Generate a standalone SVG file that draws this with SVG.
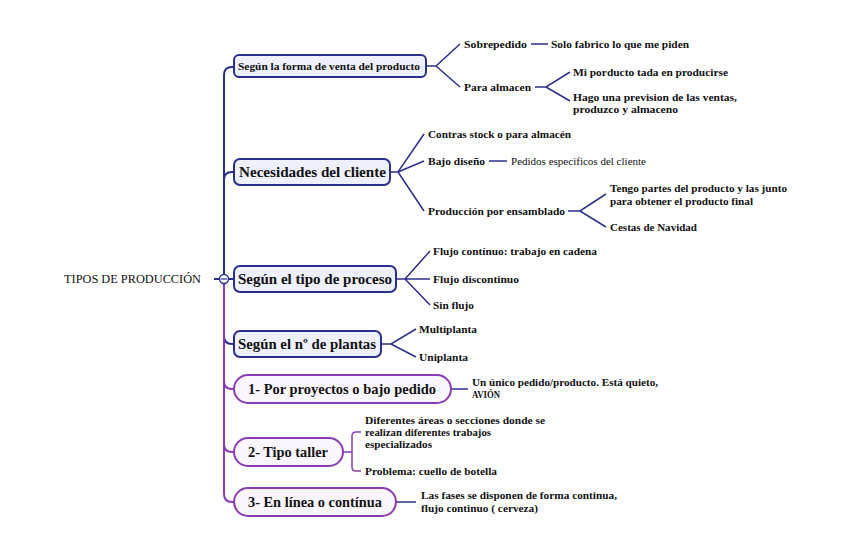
<svg xmlns="http://www.w3.org/2000/svg" width="848" height="552" viewBox="0 0 848 552">
<style>
.b{fill:#eef0fb;stroke:#2b2f8c;stroke-width:2}
.p{fill:#fbf6fd;stroke:#8a3cb4;stroke-width:2}
.lb{fill:none;stroke:#2b2f8c;stroke-width:2}
.lp{fill:none;stroke:#8a3cb4;stroke-width:2}
.lt{fill:none;stroke:#2b2f8c;stroke-width:1.5}
.lq{fill:none;stroke:#8a3cb4;stroke-width:1.5}
text{font-family:"Liberation Serif","DejaVu Serif",serif;fill:#111}
.m{font-weight:bold;font-size:15px}
.s{font-weight:bold;font-size:11.3px}
.r{font-size:11px}
</style>
<rect width="848" height="552" fill="#fff"/>
<g id="connectors">
<path class="lb" d="M224,279 V75 Q224,67 232,67 H234"/>
<path class="lb" d="M224,279 V180 Q224,172 232,172 H234"/>
<path class="lb" d="M224,279 H234"/>
<path class="lb" d="M224,279 V336 Q224,344 232,344 H234"/>
<path class="lp" d="M224,284 V381 Q224,389 232,389 H234"/>
<path class="lp" d="M224,284 V444 Q224,452 232,452 H234"/>
<path class="lp" d="M224,284 V494 Q224,502 232,502 H234"/>
<path class="lb" d="M214,279 H219"/>
<path class="lt" d="M426,66 H436 L460,44 M436,66 L460,87"/>
<path class="lt" d="M531,44 H548"/>
<path class="lt" d="M535,87 H546 L570,72 M546,87 L570,101"/>
<path class="lt" d="M390,172 H398 L424,134 M398,172 L424,161 M398,172 L424,211"/>
<path class="lt" d="M489,161 H507"/>
<path class="lt" d="M568,211 H580 L606,194 M580,211 L606,227"/>
<path class="lt" d="M396,279 H405 L430,251 M405,279 H430 M405,279 L430,305"/>
<path class="lt" d="M381,344 H391 L416,329 M391,344 L416,357"/>
<path class="lt" d="M451,389 H468"/>
<path class="lq" d="M343,452 H352 M361,432 H356 Q352,432 352,436 V467 Q352,471 356,471 H361"/>
<path class="lt" d="M396,502 H416"/>
</g>
<g id="root">
<text x="64" y="283" style="font-size:12.5px" textLength="137" lengthAdjust="spacingAndGlyphs">TIPOS DE PRODUCCIÓN</text>
<circle cx="224" cy="279" r="4.5" fill="#fff" stroke="#2b2f8c" stroke-width="1.5"/>
<path d="M221,279 H227" stroke="#2b2f8c" stroke-width="1.2"/>
</g>
<g id="n1">
<rect class="b" x="234" y="55" width="192" height="22" rx="5"/>
<text class="s" x="238" y="70" textLength="182" lengthAdjust="spacingAndGlyphs">Según la forma de venta del producto</text>
</g>
<g id="n1a"><text class="s" x="464" y="48" textLength="63" lengthAdjust="spacingAndGlyphs">Sobrepedido</text></g>
<g id="n1a1"><text class="s" x="551" y="48" textLength="138" lengthAdjust="spacingAndGlyphs">Solo fabrico lo que me piden</text></g>
<g id="n1b"><text class="s" x="464" y="91" textLength="67" lengthAdjust="spacingAndGlyphs">Para almacen</text></g>
<g id="n1b1"><text class="s" x="573" y="76" textLength="155" lengthAdjust="spacingAndGlyphs">Mi porducto tada en producirse</text></g>
<g id="n1b2"><text class="s" x="573" y="101" textLength="164" lengthAdjust="spacingAndGlyphs">Hago una prevision de las ventas,</text><text class="s" x="573" y="113" textLength="105" lengthAdjust="spacingAndGlyphs">produzco y almaceno</text></g>
<g id="n2">
<rect class="b" x="234" y="159" width="156" height="26" rx="6"/>
<text class="m" x="239" y="177" textLength="147" lengthAdjust="spacingAndGlyphs">Necesidades del cliente</text>
</g>
<g id="n2a"><text class="s" x="428" y="138" textLength="143" lengthAdjust="spacingAndGlyphs">Contras stock o para almacén</text></g>
<g id="n2b"><text class="s" x="428" y="165" textLength="57" lengthAdjust="spacingAndGlyphs">Bajo diseño</text></g>
<g id="n2b1"><text class="r" x="511" y="165" textLength="135" lengthAdjust="spacingAndGlyphs">Pedidos especificos del cliente</text></g>
<g id="n2c"><text class="s" x="428" y="215" textLength="137" lengthAdjust="spacingAndGlyphs">Producción por ensamblado</text></g>
<g id="n2c1"><text class="s" x="610" y="192" textLength="177" lengthAdjust="spacingAndGlyphs">Tengo partes del producto y las junto</text><text class="s" x="610" y="205" textLength="143" lengthAdjust="spacingAndGlyphs">para obtener el producto final</text></g>
<g id="n2c2"><text class="s" x="610" y="231" textLength="87" lengthAdjust="spacingAndGlyphs">Cestas de Navidad</text></g>
<g id="n3">
<rect class="b" x="234" y="266" width="162" height="26" rx="6"/>
<text class="m" x="238" y="284" textLength="154" lengthAdjust="spacingAndGlyphs">Según el tipo de proceso</text>
</g>
<g id="n3a"><text class="s" x="433" y="255" textLength="164" lengthAdjust="spacingAndGlyphs">Flujo contínuo: trabajo en cadena</text></g>
<g id="n3b"><text class="s" x="433" y="283" textLength="86" lengthAdjust="spacingAndGlyphs">Flujo discontinuo</text></g>
<g id="n3c"><text class="s" x="433" y="309" textLength="41" lengthAdjust="spacingAndGlyphs">Sin flujo</text></g>
<g id="n4">
<rect class="b" x="234" y="331" width="147" height="26" rx="6"/>
<text class="m" x="238" y="349" textLength="138" lengthAdjust="spacingAndGlyphs">Según el nº de plantas</text>
</g>
<g id="n4a"><text class="s" x="419" y="333" textLength="58" lengthAdjust="spacingAndGlyphs">Multiplanta</text></g>
<g id="n4b"><text class="s" x="419" y="361" textLength="49" lengthAdjust="spacingAndGlyphs">Uniplanta</text></g>
<g id="n5">
<rect class="p" x="234" y="375" width="217" height="28" rx="14"/>
<text class="m" x="248" y="394" textLength="188" lengthAdjust="spacingAndGlyphs">1- Por proyectos o bajo pedido</text>
</g>
<g id="n5a"><text class="s" x="472" y="386" textLength="186" lengthAdjust="spacingAndGlyphs">Un único pedido/producto. Está quieto,</text><text class="s" x="472" y="398" textLength="28" lengthAdjust="spacingAndGlyphs">AVIÓN</text></g>
<g id="n6">
<rect class="p" x="234" y="438" width="109" height="28" rx="14"/>
<text class="m" x="248" y="457" textLength="80" lengthAdjust="spacingAndGlyphs">2- Tipo taller</text>
</g>
<g id="n6a"><text class="s" x="365" y="424" textLength="180" lengthAdjust="spacingAndGlyphs">Diferentes áreas o secciones donde se</text><text class="s" x="365" y="436" textLength="126" lengthAdjust="spacingAndGlyphs">realizan diferentes trabajos</text><text class="s" x="365" y="448" textLength="67" lengthAdjust="spacingAndGlyphs">especializados</text></g>
<g id="n6b"><text class="s" x="365" y="475" textLength="132" lengthAdjust="spacingAndGlyphs">Problema: cuello de botella</text></g>
<g id="n7">
<rect class="p" x="234" y="488" width="162" height="28" rx="14"/>
<text class="m" x="248" y="507" textLength="134" lengthAdjust="spacingAndGlyphs">3- En línea o contínua</text>
</g>
<g id="n7a"><text class="s" x="421" y="499" textLength="196" lengthAdjust="spacingAndGlyphs">Las fases se disponen de forma continua,</text><text class="s" x="421" y="512" textLength="117" lengthAdjust="spacingAndGlyphs">flujo continuo ( cerveza)</text></g>
</svg>
